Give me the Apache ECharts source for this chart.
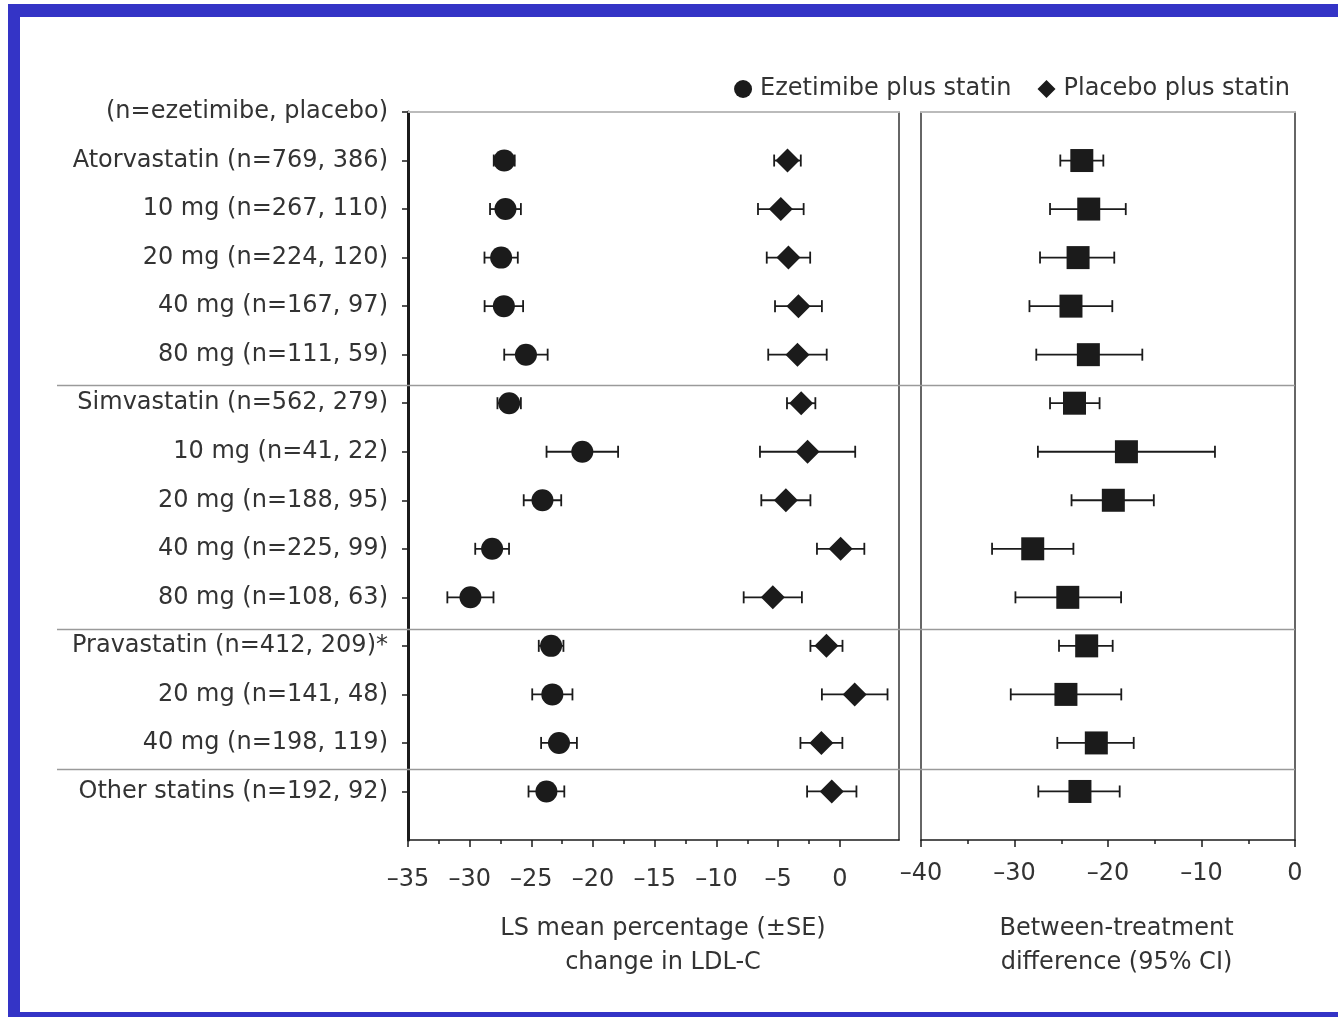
<!DOCTYPE html>
<html>
<head>
<meta charset="utf-8">
<script src="https://cdn.jsdelivr.net/npm/echarts@6/dist/echarts.min.js"></script>
<style>
html, body { margin: 0; padding: 0; background: #fff; }
#chart { width: 1338px; height: 1017px; }
</style>
</head>
<body>
<div id="chart"></div>
<script>
var header = '(n=ezetimibe, placebo)';
var labels = [
    'Atorvastatin (n=769, 386)', '10 mg (n=267, 110)', '20 mg (n=224, 120)',
    '40 mg (n=167, 97)', '80 mg (n=111, 59)',
    'Simvastatin (n=562, 279)', '10 mg (n=41, 22)', '20 mg (n=188, 95)',
    '40 mg (n=225, 99)', '80 mg (n=108, 63)',
    'Pravastatin (n=412, 209)*', '20 mg (n=141, 48)', '40 mg (n=198, 119)',
    'Other statins (n=192, 92)'
];

// LS mean % change in LDL-C (+/- SE)
var ezeMean = [-27.2, -27.1, -27.45, -27.23, -25.44, -26.8, -20.87, -24.1, -28.18, -29.94, -23.4, -23.3, -22.76, -23.78];
var ezeSE   = [0.85, 1.25, 1.35, 1.56, 1.76, 0.95, 2.9, 1.52, 1.37, 1.87, 1.0, 1.63, 1.45, 1.45];
var pboMean = [-4.24, -4.78, -4.16, -3.35, -3.43, -3.13, -2.61, -4.37, 0.07, -5.43, -1.08, 1.21, -1.49, -0.65];
var pboSE   = [1.08, 1.85, 1.76, 1.9, 2.37, 1.15, 3.86, 1.99, 1.92, 2.36, 1.3, 2.66, 1.7, 2.0];

// between-treatment difference (95% CI)
var diffMean = [-22.8, -22.06, -23.2, -23.96, -22.1, -23.58, -18.03, -19.43, -28.05, -24.3, -22.28, -24.5, -21.25, -23.0];
var diffLow  = [-25.1, -26.2, -27.27, -28.4, -27.67, -26.2, -27.5, -23.9, -32.4, -29.9, -25.24, -30.4, -25.42, -27.45];
var diffHigh = [-20.5, -18.1, -19.33, -19.54, -16.33, -20.9, -8.56, -15.1, -23.7, -18.6, -19.5, -18.58, -17.25, -18.75];

var separators = [5.63, 10.65, 13.54];
var leftTicks = [-35, -30, -25, -20, -15, -10, -5, 0];
var leftMinorTicks = [-32.5, -27.5, -22.5, -17.5, -12.5, -7.5, -2.5];
var rowTicks = [0, 1, 2, 3, 4, 5, 6, 7, 8, 9, 10, 11, 12, 13, 14];

var font = 'DejaVu Sans';
var ink = '#1b1b1b';
var textColor = '#333';
var chart = echarts.init(document.getElementById('chart'));

function dash(v) {
    return v < 0 ? '\u2013' + Math.abs(v) : String(v);
}

function points(values) {
    return values.map(function(v, i) { return [v, i + 1]; });
}

function bars(lows, highs) {
    return lows.map(function(lo, i) { return [lo, highs[i], i + 1]; });
}

function renderBar(params, api) {
    var p1 = api.coord([api.value(0), api.value(2)]);
    var p2 = api.coord([api.value(1), api.value(2)]);
    var cap = 6;
    var style = { stroke: ink, lineWidth: 1.8 };
    return {
        type: 'group',
        children: [
            { type: 'line', shape: { x1: p1[0], y1: p1[1], x2: p2[0], y2: p2[1] }, style: style },
            { type: 'line', shape: { x1: p1[0], y1: p1[1] - cap, x2: p1[0], y2: p1[1] + cap }, style: style },
            { type: 'line', shape: { x1: p2[0], y1: p2[1] - cap, x2: p2[0], y2: p2[1] + cap }, style: style }
        ]
    };
}

function frameAxis(grid, pos, color, width, min, max, inverse) {
    return {
        gridIndex: grid, type: 'value', position: pos, min: min, max: max, inverse: inverse,
        axisLine: { show: true, onZero: false, lineStyle: { color: color, width: width } },
        axisTick: { show: false }, axisLabel: { show: false }, splitLine: { show: false }
    };
}

var axisFont = { fontFamily: font, fontSize: 24, color: textColor };

option = {
    animation: false,
    backgroundColor: '#fff',
    textStyle: { fontFamily: font },
    legend: {
        data: ['Ezetimibe plus statin', 'Placebo plus statin'],
        right: 43, top: 72,
        itemWidth: 18, itemHeight: 18, itemGap: 26,
        textStyle: { fontFamily: font, fontSize: 24, color: textColor, padding: [0, 0, 0, 3] }
    },
    grid: [
        { left: 408, top: 112, width: 491, height: 728 },
        { left: 921, top: 112, width: 374, height: 728 }
    ],
    xAxis: [
        {
            gridIndex: 0, type: 'value', position: 'bottom', min: -35, max: 4.8,
            axisLine: { show: true, onZero: false, lineStyle: { color: ink, width: 1.5 } },
            axisTick: { show: true, customValues: leftTicks, length: 7, lineStyle: { color: ink, width: 1.5 } },
            axisLabel: Object.assign({ customValues: leftTicks, formatter: dash, margin: 28 }, axisFont),
            splitLine: { show: false },
            name: 'LS mean percentage (\u00b1SE)\nchange in LDL-C',
            nameLocation: 'middle', nameGap: 72,
            nameTextStyle: { fontFamily: font, fontSize: 24, color: textColor, lineHeight: 34, padding: [0, 0, 0, 19] }
        },
        {
            gridIndex: 0, type: 'value', position: 'bottom', min: -35, max: 4.8,
            axisLine: { show: false, onZero: false },
            axisTick: { show: true, customValues: leftMinorTicks, length: 4, lineStyle: { color: ink, width: 1.5 } },
            axisLabel: { show: false }, splitLine: { show: false }
        },
        frameAxis(0, 'top', '#bbb', 2, -35, 4.8, false),
        {
            gridIndex: 1, type: 'value', position: 'bottom', min: -40, max: 0, interval: 10,
            axisLine: { show: true, onZero: false, lineStyle: { color: ink, width: 1.5 } },
            axisTick: { show: true, length: 7, lineStyle: { color: ink, width: 1.5 } },
            minorTick: { show: true, splitNumber: 2, length: 4, lineStyle: { color: ink, width: 1.5 } },
            axisLabel: Object.assign({ formatter: dash, margin: 22 }, axisFont),
            splitLine: { show: false },
            name: 'Between-treatment\ndifference (95% CI)',
            nameLocation: 'middle', nameGap: 72,
            nameTextStyle: { fontFamily: font, fontSize: 24, color: textColor, lineHeight: 34, padding: [0, 0, 0, 17] }
        },
        frameAxis(1, 'top', '#bbb', 2, -40, 0, false)
    ],
    yAxis: [
        {
            gridIndex: 0, type: 'value', position: 'left', min: 0, max: 15, inverse: true,
            axisLine: { show: true, onZero: false, lineStyle: { color: ink, width: 3 } },
            axisTick: { show: true, customValues: rowTicks, length: 6, lineStyle: { color: ink, width: 1.5 } },
            axisLabel: Object.assign({
                customValues: rowTicks, margin: 20,
                formatter: function(v) { return v === 0 ? header : labels[v - 1]; }
            }, axisFont),
            splitLine: { show: false }
        },
        frameAxis(0, 'right', '#333', 1.5, 0, 15, true),
        frameAxis(1, 'left', '#333', 1.5, 0, 15, true),
        frameAxis(1, 'right', '#333', 1.5, 0, 15, true)
    ],
    series: [
        {
            type: 'custom', xAxisIndex: 0, yAxisIndex: 0, z: 2,
            data: bars(ezeMean.map(function(m, i) { return m - ezeSE[i]; }),
                       ezeMean.map(function(m, i) { return m + ezeSE[i]; })),
            encode: { x: [0, 1], y: 2 }, renderItem: renderBar
        },
        {
            name: 'Ezetimibe plus statin', type: 'scatter', xAxisIndex: 0, yAxisIndex: 0, z: 3,
            symbol: 'circle', symbolSize: 22, itemStyle: { color: ink, opacity: 1 },
            data: points(ezeMean)
        },
        {
            type: 'custom', xAxisIndex: 0, yAxisIndex: 0, z: 2,
            data: bars(pboMean.map(function(m, i) { return m - pboSE[i]; }),
                       pboMean.map(function(m, i) { return m + pboSE[i]; })),
            encode: { x: [0, 1], y: 2 }, renderItem: renderBar
        },
        {
            name: 'Placebo plus statin', type: 'scatter', xAxisIndex: 0, yAxisIndex: 0, z: 3,
            symbol: 'diamond', symbolSize: 24, itemStyle: { color: ink, opacity: 1 },
            data: points(pboMean)
        },
        {
            type: 'custom', xAxisIndex: 3, yAxisIndex: 2, z: 2,
            data: bars(diffLow, diffHigh),
            encode: { x: [0, 1], y: 2 }, renderItem: renderBar
        },
        {
            name: 'Difference', type: 'scatter', xAxisIndex: 3, yAxisIndex: 2, z: 3,
            symbol: 'rect', symbolSize: 23, itemStyle: { color: ink, opacity: 1 },
            data: points(diffMean)
        }
    ]
};

chart.setOption(option);

// group separators and the blue frame
var graphics = [
    { type: 'rect', shape: { x: 8, y: 4, width: 1330, height: 13 }, style: { fill: '#3434c6' } },
    { type: 'rect', shape: { x: 8, y: 4, width: 12, height: 1013 }, style: { fill: '#3434c6' } },
    { type: 'rect', shape: { x: 8, y: 1012, width: 1330, height: 5 }, style: { fill: '#3434c6' } }
];
separators.forEach(function(s) {
    var y = Math.round(chart.convertToPixel({ yAxisIndex: 0 }, s)) + 0.5;
    graphics.push({
        type: 'line', z: 1,
        shape: { x1: 57, y1: y, x2: 1295, y2: y },
        style: { stroke: '#9a9a9a', lineWidth: 1.5 }
    });
});
chart.setOption({ graphic: graphics });
</script>
</body>
</html>
